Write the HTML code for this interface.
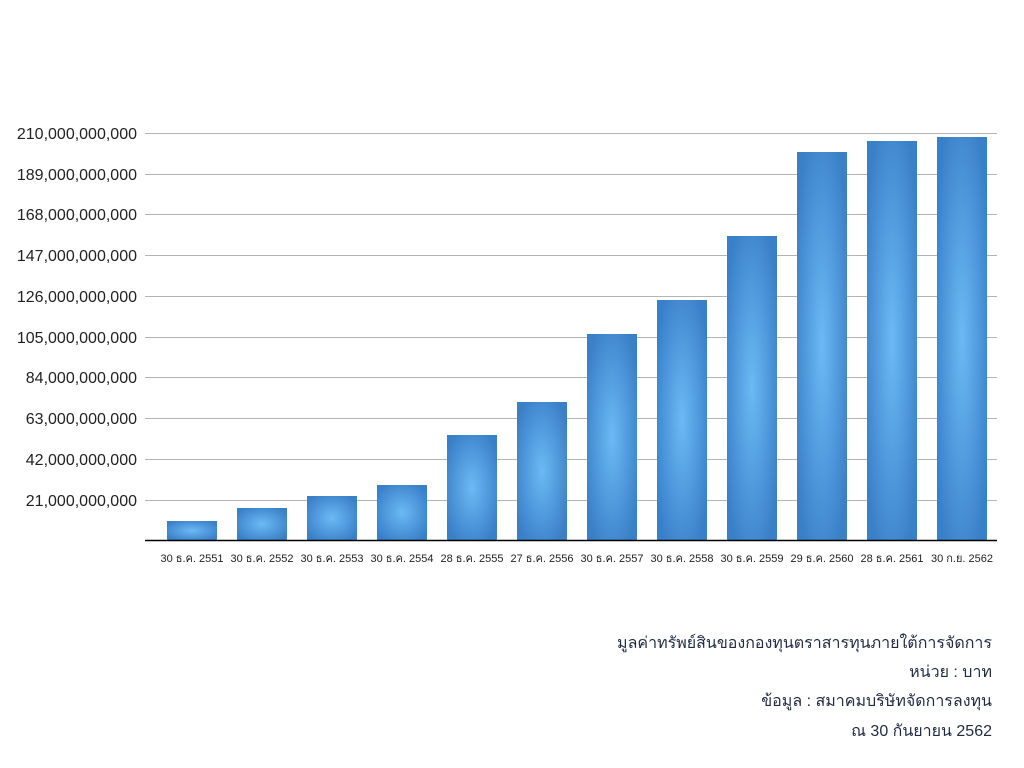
<!DOCTYPE html>
<html><head><meta charset="utf-8"><style>
html,body{margin:0;padding:0;background:#fff;width:1024px;height:768px;overflow:hidden}
svg text{font-family:"Liberation Sans","DejaVu Sans",sans-serif}
</style></head><body>
<svg width="1024" height="768" xmlns="http://www.w3.org/2000/svg">
<defs>
<radialGradient id="g" cx="0.5" cy="0.5" r="0.6">
<stop offset="0" stop-color="#6cb9f5"/>
<stop offset="1" stop-color="#3a80c8"/>
</radialGradient>
</defs>
<g stroke="#b4b4b4" stroke-width="1">
<line x1="145" x2="997" y1="133.5" y2="133.5"/>
<line x1="145" x2="997" y1="174.5" y2="174.5"/>
<line x1="145" x2="997" y1="214.5" y2="214.5"/>
<line x1="145" x2="997" y1="255.5" y2="255.5"/>
<line x1="145" x2="997" y1="296.5" y2="296.5"/>
<line x1="145" x2="997" y1="337.5" y2="337.5"/>
<line x1="145" x2="997" y1="377.5" y2="377.5"/>
<line x1="145" x2="997" y1="418.5" y2="418.5"/>
<line x1="145" x2="997" y1="459.5" y2="459.5"/>
<line x1="145" x2="997" y1="500.5" y2="500.5"/>
</g>
<g fill="url(#g)">
<rect x="167" y="521" width="50" height="19"/>
<rect x="237" y="508" width="50" height="32"/>
<rect x="307" y="496" width="50" height="44"/>
<rect x="377" y="485" width="50" height="55"/>
<rect x="447" y="435" width="50" height="105"/>
<rect x="517" y="402" width="50" height="138"/>
<rect x="587" y="334" width="50" height="206"/>
<rect x="657" y="300" width="50" height="240"/>
<rect x="727" y="236" width="50" height="304"/>
<rect x="797" y="152" width="50" height="388"/>
<rect x="867" y="141" width="50" height="399"/>
<rect x="937" y="137" width="50" height="403"/>
</g>
<line x1="145" x2="997" y1="540.5" y2="540.5" stroke="#000" stroke-width="1.5"/>
<g font-size="16" fill="#222" text-anchor="end">
<text x="137" y="139">210,000,000,000</text>
<text x="137" y="180">189,000,000,000</text>
<text x="137" y="220">168,000,000,000</text>
<text x="137" y="261">147,000,000,000</text>
<text x="137" y="302">126,000,000,000</text>
<text x="137" y="343">105,000,000,000</text>
<text x="137" y="383">84,000,000,000</text>
<text x="137" y="424">63,000,000,000</text>
<text x="137" y="465">42,000,000,000</text>
<text x="137" y="506">21,000,000,000</text>
</g>
<g font-size="11" fill="#222" text-anchor="middle">
<text x="192" y="562">30 ธ.ค. 2551</text>
<text x="262" y="562">30 ธ.ค. 2552</text>
<text x="332" y="562">30 ธ.ค. 2553</text>
<text x="402" y="562">30 ธ.ค. 2554</text>
<text x="472" y="562">28 ธ.ค. 2555</text>
<text x="542" y="562">27 ธ.ค. 2556</text>
<text x="612" y="562">30 ธ.ค. 2557</text>
<text x="682" y="562">30 ธ.ค. 2558</text>
<text x="752" y="562">30 ธ.ค. 2559</text>
<text x="822" y="562">29 ธ.ค. 2560</text>
<text x="892" y="562">28 ธ.ค. 2561</text>
<text x="962" y="562">30 ก.ย. 2562</text>
</g>
<g font-size="16" fill="#1f2a44" text-anchor="end">
<text x="992" y="648">มูลค่าทรัพย์สินของกองทุนตราสารทุนภายใต้การจัดการ</text>
<text x="992" y="677">หน่วย : บาท</text>
<text x="992" y="706">ข้อมูล : สมาคมบริษัทจัดการลงทุน</text>
<text x="992" y="736">ณ  30 กันยายน 2562</text>
</g>
</svg>
</body></html>
